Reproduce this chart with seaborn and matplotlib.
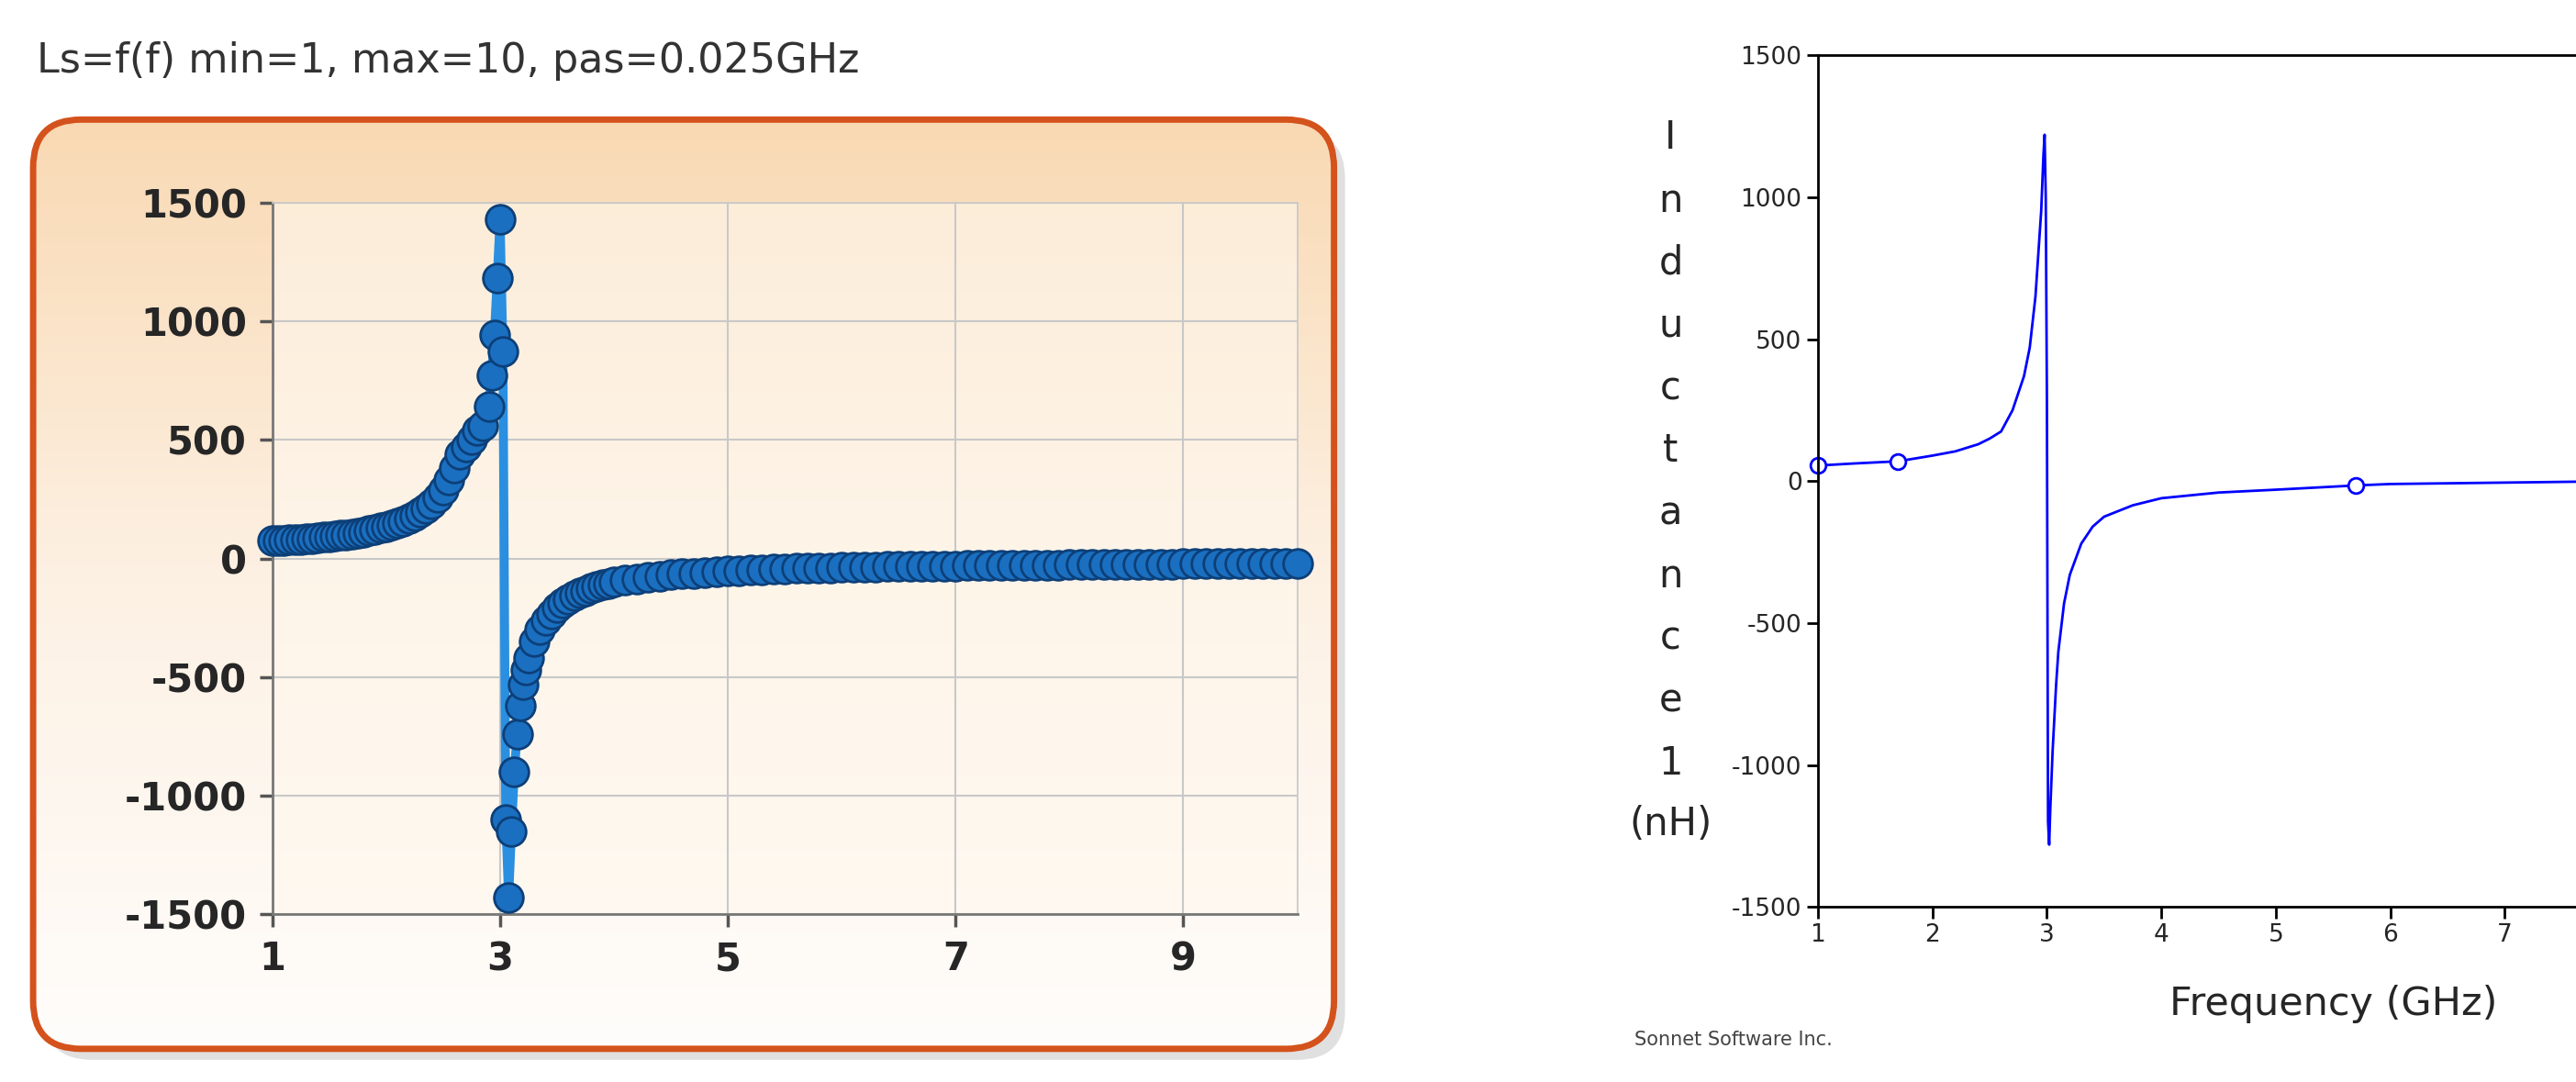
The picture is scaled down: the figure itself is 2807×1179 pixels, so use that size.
import numpy as np
import pandas as pd
import matplotlib
matplotlib.use("Agg")
import matplotlib.pyplot as plt
import seaborn as sns
from matplotlib.patches import FancyBboxPatch
from matplotlib.colors import LinearSegmentedColormap

sns.set_theme(style="white")
plt.rcParams['font.family'] = ['DejaVu Sans']
plt.rcParams['axes.unicode_minus'] = False

# ---- panel (a) data: Ls vs f ----
fa_low = [1.0,1.05,1.1,1.15,1.2,1.25,1.3,1.35,1.4,1.45,1.5,1.55,1.6,1.65,1.7,1.75,1.8,1.85,1.9,1.95,
          2.0,2.05,2.1,2.15,2.2,2.25,2.3,2.35,2.4,2.45,2.5,2.55,2.6,2.65,2.7,2.75,2.8]
la_low = [75,76,77,78,80,81,83,85,87,89,91,94,97,100,104,108,112,117,122,128,
          134,141,149,158,168,180,194,211,232,258,290,330,380,440,470,500,540]
fa_peak = [2.85,2.9,2.925,2.95,2.975,3.0,3.025,3.05,3.075,3.1,3.125,3.15,3.175,3.2,3.225,3.25,
           3.3,3.35,3.4,3.45,3.5,3.55,3.6,3.65,3.7,3.75,3.8,3.85,3.9,3.95]
la_peak = [560,640,770,940,1180,1430,870,-1100,-1430,-1150,-900,-740,-620,-530,-470,-420,
           -350,-300,-262,-232,-208,-188,-172,-158,-146,-136,-127,-119,-112,-106]
fa_high = [4.0,4.1,4.2,4.3,4.4,4.5,4.6,4.7,4.8,4.9,5.0,5.1,5.2,5.3,5.4,5.5,5.6,5.7,5.8,5.9,
           6.0,6.1,6.2,6.3,6.4,6.5,6.6,6.7,6.8,6.9,7.0,7.1,7.2,7.3,7.4,7.5,7.6,7.7,7.8,7.9,
           8.0,8.1,8.2,8.3,8.4,8.5,8.6,8.7,8.8,8.9,9.0,9.1,9.2,9.3,9.4,9.5,9.6,9.7,9.8,9.9,10.0]
la_high = [-100,-92,-85,-79,-74,-69,-65,-62,-59,-56,-53,-51,-49,-47,-45,-44,-42,-41,-40,-39,
           -38,-37,-36,-35,-34,-34,-33,-32,-32,-31,-31,-30,-30,-29,-29,-28,-28,-28,-27,-27,
           -26,-26,-26,-25,-25,-25,-24,-24,-24,-24,-23,-23,-23,-23,-22,-22,-22,-22,-22,-21,-21]
freq_a = fa_low + fa_peak + fa_high
ls_a = la_low + la_peak + la_high

# ---- panel (b) data: Inductance1 vs frequency ----
freq_b = [1.0,1.3,1.7,2.0,2.2,2.4,2.5,2.6,2.7,2.8,2.85,2.9,2.95,2.97,2.98,2.99,3.0,3.01,3.02,3.03,
          3.05,3.08,3.1,3.15,3.2,3.3,3.4,3.5,3.75,4.0,4.5,5.0,5.7,6.0,7.0,8.0,9.2,9.42,10.0]
ind_b = [55,62,70,90,105,130,150,175,250,370,470,650,950,1150,1220,1000,300,-1200,-1280,-1150,
         -950,-720,-600,-430,-330,-220,-160,-125,-85,-60,-40,-30,-15,-10,-5,0,0,0,0]
mark_f = [1.0,1.7,5.7,9.2,9.42,10.0]
mark_l = [55,70,-15,0,0,0]

W, H = 2807, 1179
S = 2.005  # layout measured on half-size view
fig = plt.figure(figsize=(W/100, H/100), dpi=100)

def rect(x0, y0, x1, y1):
    return [x0*S/W, 1 - y1*S/H, (x1-x0)*S/W, (y1-y0)*S/H]

bg = fig.add_axes([0, 0, 1, 1], zorder=0)
bg.set_xlim(0, W/S); bg.set_ylim(H/S, 0); bg.axis('off')
shadow = FancyBboxPatch((24, 71), 707, 505, boxstyle="round,pad=0,rounding_size=26",
                        fc='#c8c8c8', ec='none', alpha=0.55)
bg.add_patch(shadow)
box = FancyBboxPatch((18, 65), 707, 505, boxstyle="round,pad=0,rounding_size=26",
                     fc='none', ec='#d4521c', lw=5, zorder=3)
bg.add_patch(box)
grad = np.linspace(0, 1, 256).reshape(-1, 1)
cmap = LinearSegmentedColormap.from_list('peach', ['#f9d9b3', '#fdf1e4', '#fffdfb'])
im = bg.imshow(grad, cmap=cmap, extent=[18, 725, 570, 65], aspect='auto', zorder=1)
im.set_clip_path(box)
bg.text(20, 33, "Ls=f(f) min=1, max=10, pas=0.025GHz", fontsize=32, color='#333333',
        va='center', ha='left')
bg.text(372, 660, "(a)", fontsize=40, family='Liberation Serif', ha='center', va='center')
bg.text(1320, 660, "(b)", fontsize=40, family='Liberation Serif', ha='center', va='center')
bg.text(942, 565, "Sonnet Software Inc.", fontsize=15, color='#444444', ha='center', va='center')

# panel (a)
axa = fig.add_axes(rect(148, 110, 705, 497), zorder=2)
axa.set_facecolor('#fff8ee')
axa.patch.set_alpha(0.6)
dfa = pd.DataFrame({'f': freq_a, 'L': ls_a})
sns.lineplot(data=dfa, x='f', y='L', ax=axa, color='#2a8fe0', lw=7, sort=False, zorder=3)
sns.scatterplot(data=dfa, x='f', y='L', ax=axa, s=520, color='#1a6fc0', edgecolor='#0d3f78',
                linewidth=2, zorder=4, clip_on=False)
axa.set_xlim(1, 10); axa.set_ylim(-1500, 1500)
axa.set_xticks([1, 3, 5, 7, 9])
axa.set_yticks([-1500, -1000, -500, 0, 500, 1000, 1500])
axa.grid(True, color='#c8c8c8', lw=1.5)
for s in ['top', 'right']:
    axa.spines[s].set_color('#c8c8c8')
for s in ['left', 'bottom']:
    axa.spines[s].set_color('#777777'); axa.spines[s].set_linewidth(2)
axa.tick_params(axis='both', length=10, width=2.5, color='#555555', labelsize=30, direction='out', pad=10)
axa.tick_params(left=True, bottom=True)
for t in axa.get_xticklabels() + axa.get_yticklabels():
    t.set_fontweight('bold')
axa.set_xlabel(''); axa.set_ylabel('')

# panel (b)
axb = fig.add_axes(rect(988, 30, 1548, 493), zorder=2)
dfb = pd.DataFrame({'f': freq_b, 'L': ind_b})
sns.lineplot(data=dfb, x='f', y='L', ax=axb, color='#0000ff', lw=2, sort=False)
axb.plot(mark_f, mark_l, 'o', mfc='white', mec='#0000ff', ms=12, mew=2, clip_on=False)
axb.set_xlim(1, 10); axb.set_ylim(-1500, 1500)
axb.set_xticks(range(1, 11))
axb.set_yticks([-1500, -1000, -500, 0, 500, 1000, 1500])
for s in axb.spines.values():
    s.set_color('black'); s.set_linewidth(2)
axb.tick_params(axis='both', length=9, width=2, color='black', labelsize=19, direction='out')
axb.tick_params(left=True, bottom=True)
axb.set_xlabel('Frequency (GHz)', fontsize=31, labelpad=30)
axb.set_ylabel('')
letters = list("Inductance1")
ys = np.linspace(75, 415, len(letters))
for ch, yy in zip(letters, ys):
    bg.text(908, yy, ch, fontsize=30, ha='center', va='center')
bg.text(908, 448, "(nH)", fontsize=30, ha='center', va='center')

fig.savefig('out.png', dpi=100)
